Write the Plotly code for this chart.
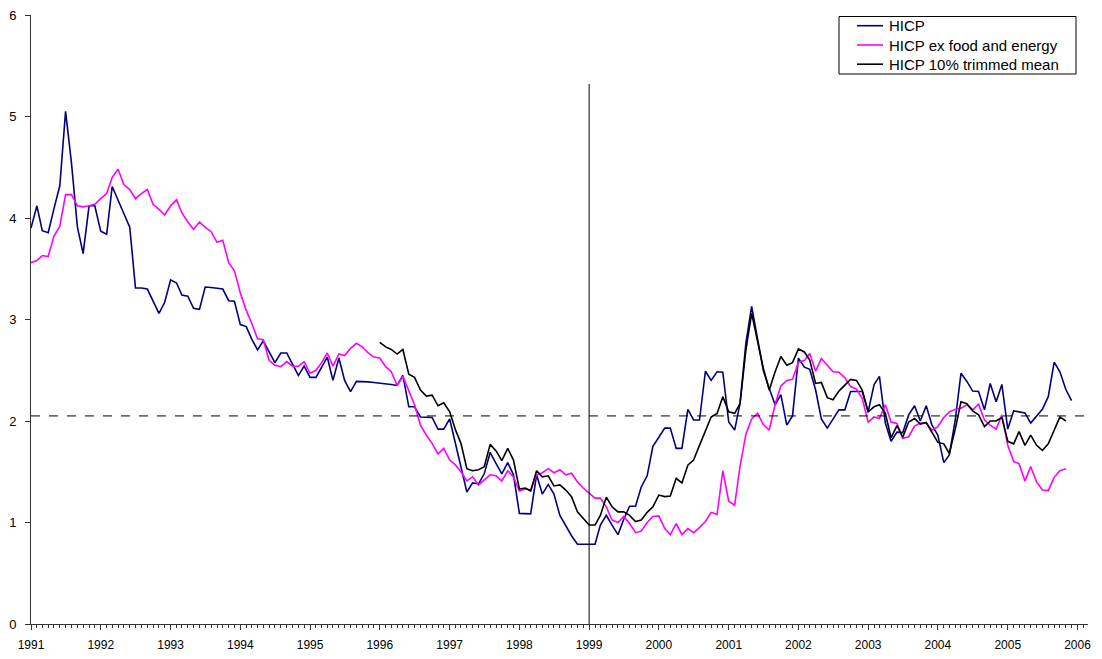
import pandas as pd
import plotly.graph_objects as go

# Monthly observations, first month = January 1991
START_MONTH = "1991-01-01"

hicp = [3.90, 4.12, 3.875, 3.855, 4.09, 4.32, 5.05, 4.54, 3.91, 3.65, 4.12, 4.12,
        3.87, 3.84, 4.31, 4.18, 4.05, 3.91, 3.31, 3.31, 3.30, 3.18, 3.06, 3.17,
        3.39, 3.36, 3.24, 3.23, 3.11, 3.10, 3.32, 3.315, 3.31, 3.30, 3.185, 3.18,
        2.95, 2.93, 2.81, 2.70, 2.79, 2.68, 2.575, 2.67, 2.67, 2.56, 2.45, 2.54,
        2.43, 2.43, 2.53, 2.63, 2.40, 2.62, 2.40, 2.29, 2.39, 2.39, 2.385, 2.38,
        2.375, 2.37, 2.36, 2.35, 2.45, 2.14, 2.14, 2.04, 2.035, 2.035, 1.92, 1.92,
        2.02, 1.78, 1.55, 1.30, 1.39, 1.38, 1.48, 1.69, 1.58, 1.48, 1.59, 1.47,
        1.09, 1.09, 1.085, 1.47, 1.28, 1.375, 1.28, 1.07, 0.97, 0.87, 0.785, 0.785,
        0.785, 0.785, 0.975, 1.07, 0.975, 0.88, 1.03, 1.16, 1.16, 1.35, 1.46, 1.75,
        1.84, 1.93, 1.93, 1.73, 1.73, 2.115, 2.01, 2.01, 2.49, 2.40, 2.485, 2.48,
        1.99, 1.91, 2.17, 2.77, 3.13, 2.80, 2.50, 2.32, 2.16, 2.26, 1.96, 2.05,
        2.62, 2.53, 2.51, 2.305, 2.02, 1.93, 2.02, 2.11, 2.11, 2.29, 2.29, 2.29,
        2.09, 2.36, 2.44, 1.98, 1.80, 1.89, 1.885, 2.06, 2.15, 2.00, 2.15, 1.96,
        1.86, 1.59, 1.665, 2.01, 2.47, 2.39, 2.295, 2.29, 2.11, 2.37, 2.19, 2.36,
        1.92, 2.10, 2.09, 2.08, 1.98, 2.05, 2.115, 2.24, 2.58, 2.485, 2.31, 2.20]

hicp_ex_food_energy = [
        3.56, 3.58, 3.63, 3.62, 3.82, 3.92, 4.23, 4.23, 4.12, 4.11, 4.12, 4.135,
        4.19, 4.24, 4.40, 4.48, 4.33, 4.28, 4.19, 4.24, 4.28, 4.135, 4.085, 4.03,
        4.12, 4.18, 4.05, 3.96, 3.89, 3.96, 3.91, 3.865, 3.76, 3.78, 3.56, 3.48,
        3.26, 3.09, 2.965, 2.81, 2.80, 2.595, 2.55, 2.535, 2.585, 2.54, 2.54, 2.585,
        2.47, 2.50, 2.57, 2.67, 2.54, 2.66, 2.645, 2.715, 2.765, 2.73, 2.67, 2.63,
        2.62, 2.535, 2.485, 2.35, 2.44, 2.305, 2.16, 1.96, 1.86, 1.78, 1.675, 1.73,
        1.615, 1.565, 1.50, 1.41, 1.45, 1.37, 1.42, 1.47, 1.46, 1.41, 1.51, 1.45,
        1.31, 1.33, 1.32, 1.47, 1.49, 1.53, 1.49, 1.52, 1.47, 1.485, 1.40, 1.34,
        1.29, 1.24, 1.24, 1.155, 1.025, 1.00, 1.06, 0.99, 0.90, 0.915, 1.00, 1.06,
        1.065, 0.94, 0.88, 0.99, 0.88, 0.94, 0.90, 0.95, 1.01, 1.10, 1.08, 1.51,
        1.21, 1.17, 1.55, 1.87, 2.02, 2.075, 1.965, 1.91, 2.165, 2.345, 2.40, 2.41,
        2.58, 2.595, 2.665, 2.49, 2.615, 2.55, 2.485, 2.48, 2.425, 2.34, 2.315, 2.22,
        1.99, 2.04, 2.025, 2.16, 1.99, 1.975, 1.83, 1.845, 1.95, 1.98, 1.98, 1.91,
        1.945, 2.035, 2.09, 2.115, 2.125, 2.16, 2.11, 2.165, 2.01, 1.96, 1.92, 2.06,
        1.76, 1.60, 1.58, 1.41, 1.55, 1.40, 1.32, 1.315, 1.445, 1.51, 1.53]

# trimmed mean starts in January 1996 (month offset 60)
TRIMMED_START_OFFSET = 60
hicp_trimmed_mean = [
        2.775, 2.73, 2.705, 2.66, 2.705, 2.46, 2.43, 2.305, 2.245, 2.255, 2.15, 2.18,
        2.09, 1.91, 1.78, 1.53, 1.51, 1.52, 1.55, 1.77, 1.705, 1.61, 1.73, 1.615,
        1.33, 1.34, 1.31, 1.51, 1.45, 1.46, 1.36, 1.37, 1.32, 1.255, 1.105, 1.04,
        0.975, 0.975, 1.07, 1.25, 1.155, 1.105, 1.105, 1.07, 1.01, 1.025, 1.10, 1.155,
        1.27, 1.255, 1.26, 1.435, 1.39, 1.565, 1.615, 1.76, 1.895, 2.04, 2.075, 2.24,
        2.09, 2.075, 2.17, 2.70, 3.06, 2.78, 2.52, 2.305, 2.485, 2.635, 2.55, 2.575,
        2.71, 2.68, 2.60, 2.37, 2.38, 2.23, 2.21, 2.295, 2.355, 2.41, 2.40, 2.305,
        2.09, 2.14, 2.16, 2.075, 1.835, 1.955, 1.84, 1.99, 2.025, 1.97, 1.985, 1.885,
        1.79, 1.775, 1.68, 1.92, 2.19, 2.17, 2.10, 2.06, 1.945, 2.00, 2.00, 2.035,
        1.80, 1.775, 1.895, 1.76, 1.86, 1.76, 1.71, 1.775, 1.905, 2.04, 2.00]

series_names = ["HICP", "HICP ex food and energy", "HICP 10% trimmed mean"]
series_colors = ["#000080", "#FF00FF", "#000000"]

reference_level = 2.05
euro_start = "1999-01-01"
euro_line_top = 5.32

year_ticks = [str(y) for y in range(1991, 2007)]

months_all = pd.date_range(START_MONTH, periods=len(hicp), freq="MS")
months_ex = months_all[:len(hicp_ex_food_energy)]
months_tm = months_all[TRIMMED_START_OFFSET:TRIMMED_START_OFFSET + len(hicp_trimmed_mean)]

FONT = "Liberation Sans, Arial, sans-serif"

# page body has an 8px margin; size the figure to fit inside the window
FIG_W, FIG_H = 1086, 643
ML, MR, MT, MB = 23, 6, 7, 27
PW = FIG_W - ML - MR
PH = FIG_H - MT - MB


def px_x(px):  # page pixel -> paper x
    return (px - 8 - ML) / PW


def px_y(py):  # page pixel -> paper y
    return 1 - (py - 8 - MT) / PH


fig = go.Figure()
for xs, ys, name, color in zip([months_all, months_ex, months_tm],
                               [hicp, hicp_ex_food_energy, hicp_trimmed_mean],
                               series_names, series_colors):
    fig.add_trace(go.Scatter(x=xs, y=ys, mode="lines", name=name,
                             line=dict(color=color, width=1.6), showlegend=False))

fig.add_shape(type="line", xref="paper", yref="y", x0=0, x1=1,
              y0=reference_level, y1=reference_level,
              line=dict(color="black", width=1, dash="dash"))
fig.add_shape(type="line", xref="x", yref="y", x0=euro_start, x1=euro_start,
              y0=0, y1=euro_line_top, line=dict(color="black", width=1))

# legend (frame, line samples, labels)
fig.add_shape(type="rect", xref="paper", yref="paper",
              x0=px_x(839), x1=px_x(1076), y0=px_y(74), y1=px_y(16.5),
              line=dict(color="black", width=1), fillcolor="white")
legend_rows = [25.7, 45.0, 64.2]
for row_y, name, color in zip(legend_rows, series_names, series_colors):
    fig.add_shape(type="line", xref="paper", yref="paper",
                  x0=px_x(857), x1=px_x(883), y0=px_y(row_y), y1=px_y(row_y),
                  line=dict(color=color, width=1.6))
    fig.add_annotation(xref="paper", yref="paper", x=px_x(886.5), y=px_y(row_y),
                       xanchor="left", yanchor="middle", showarrow=False,
                       text=name, font=dict(family=FONT, size=15, color="black"))

fig.update_layout(
    width=FIG_W, height=FIG_H,
    margin=dict(l=ML, r=MR, t=MT, b=MB, autoexpand=False),
    paper_bgcolor="white", plot_bgcolor="rgba(0,0,0,0)",
    font=dict(family=FONT, size=12, color="black"),
    showlegend=False,
    xaxis=dict(
        type="date",
        range=["1991-01-01", "2006-02-25"],
        tickvals=[f"{y}-01-01" for y in year_ticks],
        ticktext=year_ticks,
        ticks="outside", ticklen=5, tickcolor="#333333", tickwidth=1,
        minor=dict(dtick="M1", tick0="1991-01-01", ticks="outside", ticklen=3,
                   tickcolor="#333333", tickwidth=1, showgrid=False),
        showline=True, linecolor="#333333", linewidth=1,
        showgrid=False, zeroline=False, automargin=False,
        ticklabelstandoff=5, ticklabeloverflow="allow",
        tickfont=dict(family=FONT, size=12, color="black"),
    ),
    yaxis=dict(
        range=[0, 6], tickvals=[0, 1, 2, 3, 4, 5, 6],
        ticks="outside", ticklen=5, tickcolor="#333333",
        showline=True, linecolor="#333333", linewidth=1,
        showgrid=False, zeroline=False, automargin=False,
        ticklabelstandoff=6, ticklabeloverflow="allow",
        tickfont=dict(family=FONT, size=13, color="black"),
    ),
)

fig.write_html("out.html")
